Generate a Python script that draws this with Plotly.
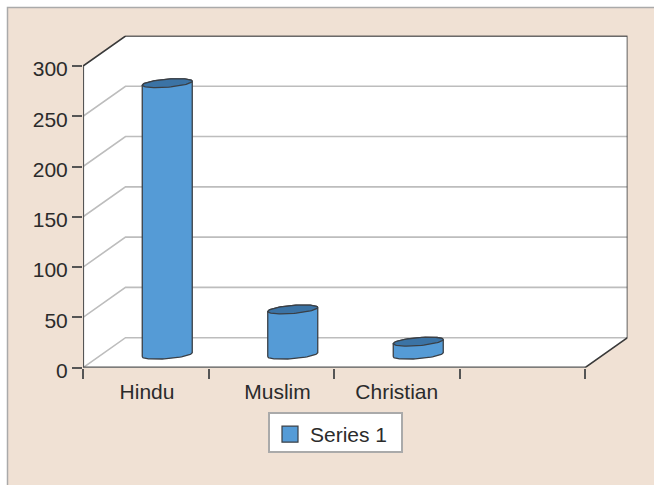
import numpy as np
import plotly.graph_objects as go

categories = ["Hindu", "Muslim", "Christian"]
values = [270, 45, 13]
series_name = "Series 1"
y_ticks = [0, 50, 100, 150, 200, 250, 300]
x_boundaries = [0, 1, 2, 3, 4]
label_positions = [0.51, 1.55, 2.5]

W, H = 654, 485
BG = "#f0e1d4"
BAR = "#559bd6"
BAR_TOP = "#3b73a5"
EDGE = "#3a3f45"
AXIS = "#555555"
GRID = "#bdbdbd"
TEXT = "#2b2b2b"
FONT = "Liberation Sans"

# axis scale (pixels per unit)
left, right, bottom, top = 83.0, 627.5, 367.7, 35.5
px_x = 125.5
px_y = 301.7 / 300
xmax = (right - left) / px_x
ymax = (bottom - top) / px_y
depth_x = 42.5 / px_x
depth_y = 30 / px_y

fig = go.Figure()

def line(xs, ys, color, width, fill=None, fillcolor=None):
    fig.add_trace(go.Scatter(x=xs, y=ys, mode="lines", showlegend=False,
                             hoverinfo="skip", cliponaxis=False, fill=fill,
                             fillcolor=fillcolor,
                             line=dict(color=color, width=width)))

# white walls
fx, fy = x_boundaries[-1], y_ticks[-1]
line([0, depth_x, fx + depth_x, fx + depth_x, fx, 0, 0],
     [fy, fy + depth_y, fy + depth_y, depth_y, 0, 0, fy],
     "rgba(0,0,0,0)", 0, "toself", "#ffffff")

# gridlines
for t in y_ticks[:-1]:
    line([0, depth_x, fx + depth_x], [t, t + depth_y, t + depth_y], GRID, 1.6)

# frame
line([0, depth_x, fx + depth_x, fx + depth_x, fx], [fy, fy + depth_y, fy + depth_y, depth_y, 0], "#3a3a3a", 1.6)
line([0, 0, fx], [fy, 0, 0], AXIS, 2.2)

# cylinders
a, b, k = 25.0, 4.0, 0.08
base_x, base_y = 21.5 / px_x, 13.0 / px_y

def ring(cx, cy, t):
    return (cx + a * np.cos(t) / px_x,
            cy + (a * k * np.cos(t) + b * np.sin(t)) / px_y)

for i, v in enumerate(values):
    cx = i + 0.5 + base_x
    lo = ring(cx, base_y, np.linspace(np.pi, 2 * np.pi, 40))
    hi = ring(cx, base_y + v, np.linspace(0, np.pi, 40))
    line(list(lo[0]) + list(hi[0]) + [lo[0][0]], list(lo[1]) + list(hi[1]) + [lo[1][0]],
         EDGE, 1.3, "toself", BAR)
    cap = ring(cx, base_y + v, np.linspace(0, 2 * np.pi, 80))
    line(cap[0], cap[1], EDGE, 1.3, "toself", BAR_TOP)

# legend entry
fig.add_trace(go.Scatter(x=[None], y=[None], mode="markers", name=series_name,
                         marker=dict(symbol="square", size=16, color=BAR,
                                     line=dict(color=EDGE, width=1.2))))

fig.update_layout(
    width=W, height=H, margin=dict(l=0, r=0, t=0, b=0, autoexpand=False),
    paper_bgcolor="#ffffff", plot_bgcolor="rgba(0,0,0,0)",
    font=dict(family=FONT, size=21, color=TEXT),
    xaxis=dict(domain=[left / W, right / W], range=[0, xmax], showgrid=False,
               zeroline=False, showline=False, automargin=False,
               tickmode="array", tickvals=label_positions, ticktext=categories,
               ticks="outside", ticklen=0, ticklabelstandoff=5,
               minor=dict(tickmode="array", tickvals=x_boundaries, ticks="outside",
                          ticklen=10, tickcolor=AXIS, tickwidth=1.5, showgrid=False)),
    yaxis=dict(domain=[1 - bottom / H, 1 - top / H], range=[0, ymax], showgrid=False,
               zeroline=False, showline=False, automargin=False,
               tickmode="array", tickvals=y_ticks, ticks="outside",
               ticklen=10, tickcolor=AXIS, tickwidth=1.5, ticklabelshift=3),
    legend=dict(x=268 / W, y=1 - 412 / H, xanchor="left", yanchor="top",
                bgcolor="#ffffff", bordercolor="#aaaaaa", borderwidth=2,
                maxheight=41,
                itemsizing="trace", font=dict(size=21, color=TEXT)),
    shapes=[dict(type="rect", xref="paper", yref="paper", layer="below",
                 x0=7.5 / W, x1=1.05, y0=-0.05, y1=1 - 7.5 / H,
                 fillcolor=BG, line=dict(color="#aaaaaa", width=1.5))],
)

fig.write_html("out.html", config={"displayModeBar": False},
               post_script=("document.body.style.margin='0';"
                            "var s=document.createElement('style');"
                            "s.textContent='.legend .scrollbar{display:none !important;}';"
                            "document.head.appendChild(s);"))
